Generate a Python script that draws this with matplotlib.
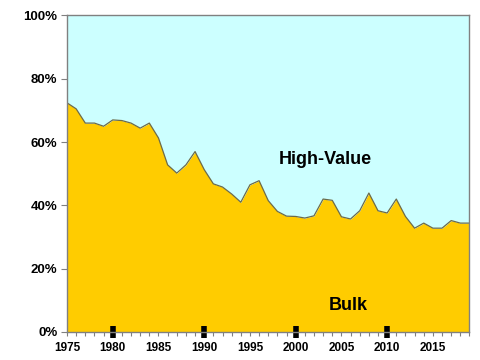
import matplotlib
matplotlib.use("Agg")
import matplotlib.pyplot as plt
import numpy as np

years = list(range(1975, 2020))
bulk = [72.4, 70.5, 66.0, 66.0, 65.0, 67.0, 66.8, 66.0, 64.4, 66.0,
        61.3, 52.8, 50.2, 52.8, 57.0, 51.3, 46.8, 45.8, 43.6, 41.0,
        46.5, 47.8, 41.5, 38.1, 36.6, 36.5, 36.0, 36.7, 42.0, 41.6,
        36.4, 35.7, 38.3, 43.9, 38.3, 37.6, 42.0, 36.5, 32.8, 34.4,
        32.8, 32.8, 35.2, 34.4, 34.4]
high_value = [100 - b for b in bulk]

label_years = list(range(1975, 2016, 5))
decade_years = [1980, 1990, 2000, 2010]
y_ticks = [0, 20, 40, 60, 80, 100]

plt.rcParams['font.family'] = ['Liberation Sans', 'DejaVu Sans']

fig = plt.figure(figsize=(4.8, 3.6), dpi=100)
ax = fig.add_axes([0.1396, 0.0778, 0.8385, 0.8792])

yrs = np.array(years)
b = np.array(bulk)
h = np.array(high_value)
ax.fill_between(yrs, 0, b, color='#FFCC00', linewidth=0, zorder=0.5)
ax.fill_between(yrs, b, b + h, color='#CCFFFF', linewidth=0, zorder=0.5)
ax.plot(yrs, b, color='#6B6B4A', linewidth=0.9, zorder=0.6)

ax.set_xlim(1975, 2019)
ax.set_ylim(0, 100)

for s in ax.spines.values():
    s.set_color('#808080')
    s.set_linewidth(1.0)

ax.set_yticks(y_ticks)
ax.set_yticklabels([f"{v}%" for v in y_ticks], fontsize=9.5, fontweight='bold')
ax.tick_params(axis='y', direction='out', length=4, color='#808080', pad=3)

ax.set_xticks(label_years)
ax.set_xticklabels([str(y) for y in label_years], fontsize=8.5, fontweight='bold')
ax.set_xticks(years, minor=True)
ax.tick_params(axis='x', which='major', direction='out', length=3, color='#808080', pad=4)
ax.tick_params(axis='x', which='minor', direction='out', length=3, color='#808080', width=0.8)

for yv, tick in zip(label_years, ax.xaxis.get_major_ticks()):
    if yv in decade_years:
        tick.tick1line.set_marker('|')
        tick.tick1line.set_markersize(9)
        tick.tick1line.set_markeredgewidth(4)
        tick.tick1line.set_color('black')
        tick.tick1line.set_markeredgecolor('black')

ax.text(2003.2, 54.5, 'High-Value', fontsize=13, fontweight='bold', ha='center', va='center')
ax.text(2005.8, 8.4, 'Bulk', fontsize=13, fontweight='bold', ha='center', va='center')

fig.savefig('out.png', dpi=100)
